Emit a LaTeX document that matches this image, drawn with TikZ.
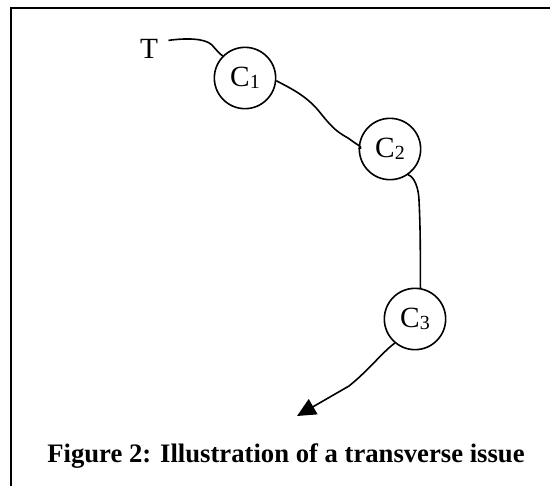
\documentclass[tikz,border=0pt]{standalone}
\usepackage{fontspec}
\setmainfont{Liberation Serif}
\usetikzlibrary{arrows.meta}

\tikzset{every picture/.style={line width=0.75pt}}
\tikzset{
  issue/.style={circle, draw, line width=1.2pt, minimum size=46, inner sep=0pt, font=\fontsize{22}{26}\selectfont},
  route/.style={line width=1.2pt},
  label/.style={inner sep=0pt, font=\fontsize{22}{26}\selectfont}
}
\newcommand{\idx}[1]{{\fontsize{15}{15}\selectfont\raisebox{-1.5pt}{#1}}}

\begin{document}
\begin{tikzpicture}[x=0.75pt,y=0.75pt,yscale=-1,xscale=1]
    \useasboundingbox (0,0) rectangle (550,486);

    %Frame
    \draw [line width=1.5pt] (11,486) -- (11,8) -- (550,8) ;

    % Text Node
    \node (t) [label, anchor=base] at (149,58) {T};
    % Issue circles
    \node (c1) [issue] at (245,78) {C\idx{1}};
    \node (c2) [issue] at (390,149) {C\idx{2}};
    \node (c3) [issue] at (415,319) {C\idx{3}};
    \coordinate (tip) at (297,416);

    %Curve Lines
    \draw [route] (t.east) ++(10,-8) .. controls (185,38) and (205,38) .. (212,45) .. controls (218,52) and (222,56) .. (c1.135) ;
    \draw [route] (c1.-5) .. controls (290,88) and (305,95) .. (318,110) .. controls (330,125) and (335,131) .. (348,138) -- (355,143) .. controls (360,146) and (363,148) .. (c2.180) ;
    \draw [route] (c2.-55) .. controls (410,175) and (418,180) .. (419,200) .. controls (421,240) and (420,270) .. (c3.80) ;
    \draw [route, -{Triangle[length=14pt, width=13pt]}] (c3.-130) .. controls (385,350) and (370,368) .. (355,381) -- (349,386) -- (tip) ;

    % Caption
    \node (caption) [label, anchor=base, font=\fontsize{20}{24}\selectfont\bfseries] at (286,462) {Figure 2: Illustration of a transverse issue};

\end{tikzpicture}
\end{document}
